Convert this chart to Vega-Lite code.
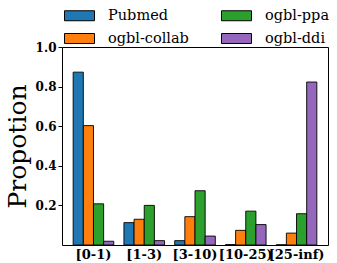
{
  "$schema": "https://vega.github.io/schema/vega-lite/v6.json",
  "width": 266,
  "height": 198,
  "autosize": "none",
  "padding": {"left": 62, "top": 47, "right": 9, "bottom": 18},
  "background": "white",
  "config": {
    "view": {"stroke": "black", "strokeWidth": 1},
    "font": "DejaVu Serif"
  },
  "data": {
    "values": [
      {"bin": "[0-1)", "series": "Pubmed", "value": 0.873},
      {"bin": "[0-1)", "series": "ogbl-collab", "value": 0.603},
      {"bin": "[0-1)", "series": "ogbl-ppa", "value": 0.208},
      {"bin": "[0-1)", "series": "ogbl-ddi", "value": 0.019},
      {"bin": "[1-3)", "series": "Pubmed", "value": 0.113},
      {"bin": "[1-3)", "series": "ogbl-collab", "value": 0.13},
      {"bin": "[1-3)", "series": "ogbl-ppa", "value": 0.2},
      {"bin": "[1-3)", "series": "ogbl-ddi", "value": 0.022},
      {"bin": "[3-10)", "series": "Pubmed", "value": 0.022},
      {"bin": "[3-10)", "series": "ogbl-collab", "value": 0.143},
      {"bin": "[3-10)", "series": "ogbl-ppa", "value": 0.274},
      {"bin": "[3-10)", "series": "ogbl-ddi", "value": 0.045},
      {"bin": "[10-25)", "series": "Pubmed", "value": 0.002},
      {"bin": "[10-25)", "series": "ogbl-collab", "value": 0.074},
      {"bin": "[10-25)", "series": "ogbl-ppa", "value": 0.171},
      {"bin": "[10-25)", "series": "ogbl-ddi", "value": 0.103},
      {"bin": "[25-inf)", "series": "Pubmed", "value": 0.001},
      {"bin": "[25-inf)", "series": "ogbl-collab", "value": 0.06},
      {"bin": "[25-inf)", "series": "ogbl-ppa", "value": 0.158},
      {"bin": "[25-inf)", "series": "ogbl-ddi", "value": 0.823}
    ]
  },
  "mark": {"type": "bar", "stroke": "black", "strokeWidth": 1, "strokeOpacity": 0.9},
  "encoding": {
    "x": {
      "field": "bin",
      "type": "nominal",
      "sort": ["[0-1)", "[1-3)", "[3-10)", "[10-25)", "[25-inf)"],
      "scale": {"paddingInner": 0.2, "paddingOuter": 0.22},
      "axis": {
        "title": null,
        "labelAngle": 0,
        "labelFont": "DejaVu Serif",
        "labelFontWeight": "bold",
        "labelFontSize": 13,
        "labelColor": "black",
        "labelPadding": 3,
        "ticks": false,
        "domain": false
      }
    },
    "xOffset": {
      "field": "series",
      "type": "nominal",
      "sort": ["Pubmed", "ogbl-collab", "ogbl-ppa", "ogbl-ddi"],
      "scale": {"paddingInner": 0, "paddingOuter": 0}
    },
    "y": {
      "field": "value",
      "type": "quantitative",
      "scale": {"domain": [0, 1], "nice": false},
      "axis": {
        "title": "Propotion",
        "titleFont": "DejaVu Serif",
        "titleFontSize": 25,
        "titleFontWeight": "normal",
        "titleColor": "black",
        "titlePadding": 5,
        "values": [0.2, 0.4, 0.6, 0.8, 1.0],
        "format": ".1f",
        "labelFont": "DejaVu Serif",
        "labelFontWeight": "bold",
        "labelFontSize": 12,
        "labelColor": "black",
        "labelPadding": 2,
        "tickColor": "black",
        "tickSize": 4,
        "grid": false,
        "domain": false
      }
    },
    "color": {
      "field": "series",
      "type": "nominal",
      "scale": {
        "domain": ["Pubmed", "ogbl-ppa", "ogbl-collab", "ogbl-ddi"],
        "range": ["#1f77b4", "#2ca02c", "#ff7f0e", "#9467bd"]
      },
      "legend": {
        "title": null,
        "orient": "none",
        "legendX": 2,
        "legendY": -47,
        "direction": "horizontal",
        "columns": 2,
        "columnPadding": 30,
        "rowPadding": -9,
        "symbolType": "M-1,-0.333H1V0.333H-1Z",
        "symbolSize": 900,
        "symbolStrokeColor": "black",
        "symbolStrokeWidth": 1,
        "symbolOpacity": 1,
        "labelFont": "DejaVu Serif",
        "labelFontSize": 14.5,
        "labelColor": "black",
        "labelOffset": 13
      }
    }
  }
}
